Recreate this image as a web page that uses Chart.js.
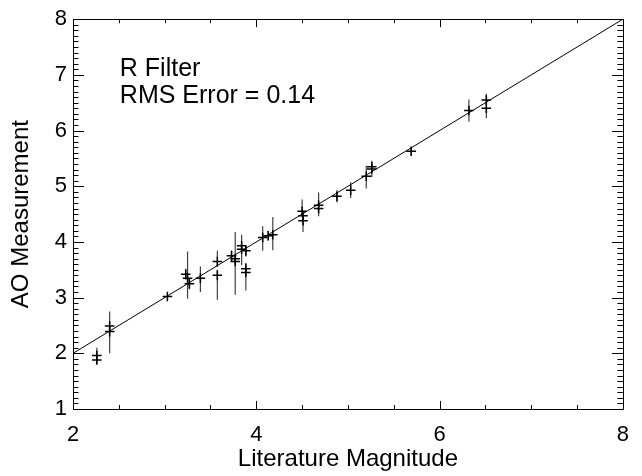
<!DOCTYPE html>
<html>
<head>
<meta charset="utf-8">
<script src="https://cdn.jsdelivr.net/npm/chart.js@4.4.1/dist/chart.umd.min.js"></script>
<style>
  html, body { margin: 0; padding: 0; background: #fff; }
  #wrap { width: 642px; height: 476px; }
</style>
</head>
<body>
<div id="wrap"><canvas id="c" width="642" height="476"></canvas></div>
<script>
// ---- data ----
const litMag = [2.26, 2.26, 2.40, 2.40, 3.03, 3.23, 3.25, 3.27, 3.39, 3.575, 3.575, 3.73, 3.77, 3.77,
                3.84, 3.84, 3.886, 3.886, 3.886, 4.07, 4.13, 4.18, 4.50, 4.51, 4.51, 4.68, 4.68,
                4.88, 5.03, 5.20, 5.26, 5.26, 5.69, 6.32, 6.51, 6.51];
const aoMag  = [1.96, 1.88, 2.49, 2.39, 3.02, 3.42, 3.35, 3.25, 3.35, 3.65, 3.40, 3.75, 3.70, 3.65,
                3.93, 3.87, 3.84, 3.52, 3.45, 4.08, 4.11, 4.13, 4.55, 4.47, 4.38, 4.66, 4.60,
                4.82, 4.93, 5.18, 5.35, 5.31, 5.63, 6.36, 6.55, 6.40];
const aoErrLow  = [0.15, 0.05, 0.08, 0.39, 0.02, 0.10, 0.37, 0.10, 0.25, 0.10, 0.44, 0.10, 0.65, 0.10,
                   0.10, 0.29, 0.10, 0.10, 0.32, 0.24, 0.08, 0.28, 0.10, 0.10, 0.20, 0.10, 0.14,
                   0.11, 0.14, 0.22, 0.08, 0.15, 0.06, 0.20, 0.10, 0.18];
const aoErrHigh = [0.14, 0.05, 0.08, 0.36, 0.02, 0.10, 0.48, 0.10, 0.21, 0.19, 0.10, 0.10, 0.48, 0.10,
                   0.20, 0.10, 0.09, 0.10, 0.10, 0.20, 0.08, 0.32, 0.21, 0.10, 0.10, 0.23, 0.10,
                   0.11, 0.14, 0.19, 0.11, 0.08, 0.06, 0.20, 0.11, 0.10];
const lineX = [2, 8];
const lineY = [2, 8];
const xTickValues = [2, 4, 6, 8];
const yTickValues = [1, 2, 3, 4, 5, 6, 7, 8];
const notes = ["R Filter", "RMS Error = 0.14"];
const xTitle = "Literature Magnitude";
const yTitle = "AO Measurement";

// ---- build datasets ----
const points = litMag.map((x, i) => ({ x: x, y: aoMag[i] }));
const errSegs = [];
litMag.forEach((x, i) => {
  errSegs.push({ x: x, y: aoMag[i] - aoErrLow[i] });
  errSegs.push({ x: x, y: aoMag[i] + aoErrHigh[i] });
  errSegs.push({ x: x, y: null });
});
const fitLine = lineX.map((x, i) => ({ x: x, y: lineY[i] }));

const FONT = "'Liberation Sans', Arial, Helvetica, sans-serif";

const framePlugin = {
  id: 'frame',
  afterDatasetsDraw(chart) {
    const { ctx, chartArea: a, scales: { x, y } } = chart;
    ctx.save();
    ctx.strokeStyle = '#000';
    ctx.lineWidth = 1;
    ctx.beginPath();
    ctx.rect(Math.round(a.left) + 0.5, Math.round(a.top) + 0.5,
             Math.round(a.right - a.left), Math.round(a.bottom - a.top));
    ctx.stroke();
    ctx.beginPath();
    for (let k = 0; k <= 12; k++) {
      const v = x.min + k * 0.5;
      const px = Math.round(x.getPixelForValue(v)) + 0.5;
      const len = (k % 4 === 0) ? 8 : 4;
      ctx.moveTo(px, a.bottom); ctx.lineTo(px, a.bottom - len);
      ctx.moveTo(px, a.top); ctx.lineTo(px, a.top + len);
    }
    for (let k = 0; k <= 70; k++) {
      const v = y.min + k * 0.1;
      const py = Math.round(y.getPixelForValue(v)) + 0.5;
      const len = (k % 10 === 0) ? 11 : 5.5;
      ctx.moveTo(a.left, py); ctx.lineTo(a.left + len, py);
      ctx.moveTo(a.right, py); ctx.lineTo(a.right - len, py);
    }
    ctx.stroke();
    ctx.fillStyle = '#000';
    ctx.font = '25px ' + FONT;
    ctx.textAlign = 'left';
    ctx.textBaseline = 'alphabetic';
    ctx.fillText(notes[0], x.getPixelForValue(2.511), y.getPixelForValue(6.975));
    ctx.fillText(notes[1], x.getPixelForValue(2.511), y.getPixelForValue(6.488));
    ctx.restore();
  }
};

new Chart(document.getElementById('c'), {
  type: 'scatter',
  data: {
    datasets: [
      {
        label: 'fit', data: fitLine, showLine: true, borderColor: '#000', borderWidth: 1,
        pointRadius: 0, order: 3
      },
      {
        label: 'err', data: errSegs, showLine: true, spanGaps: false, borderColor: 'rgba(0,0,0,0.75)',
        borderWidth: 1.2, pointRadius: 0, order: 2
      },
      {
        label: 'pts', data: points, pointStyle: 'cross', pointRadius: 4.8, borderColor: '#000',
        borderWidth: 1.5, backgroundColor: '#000', order: 1
      }
    ]
  },
  options: {
    responsive: false,
    animation: false,
    events: [],
    layout: { padding: { top: 13, right: 9, left: 0, bottom: 0 } },
    plugins: { legend: { display: false }, tooltip: { enabled: false } },
    scales: {
      x: {
        type: 'linear', min: 2, max: 8,
        afterBuildTicks: s => { s.ticks = xTickValues.map(v => ({ value: v })); },
        afterFit: s => { s.height = 67; },
        grid: { display: false, drawTicks: false },
        border: { display: false },
        ticks: { color: '#000', font: { family: FONT, size: 22 }, padding: 13, maxRotation: 0 },
        title: { display: true, text: xTitle, color: '#000', font: { family: FONT, size: 24 },
                 padding: { top: 0, bottom: 2 } }
      },
      y: {
        type: 'linear', min: 1, max: 8,
        afterBuildTicks: s => { s.ticks = yTickValues.map(v => ({ value: v })); },
        afterFit: s => { s.width = 73; },
        grid: { display: false, drawTicks: false },
        border: { display: false },
        ticks: { color: '#000', font: { family: FONT, size: 22 }, padding: 6 },
        title: { display: true, text: yTitle, color: '#000', font: { family: FONT, size: 24 },
                 padding: { top: 7, bottom: 0 } }
      }
    }
  },
  plugins: [framePlugin]
});
</script>
</body>
</html>
